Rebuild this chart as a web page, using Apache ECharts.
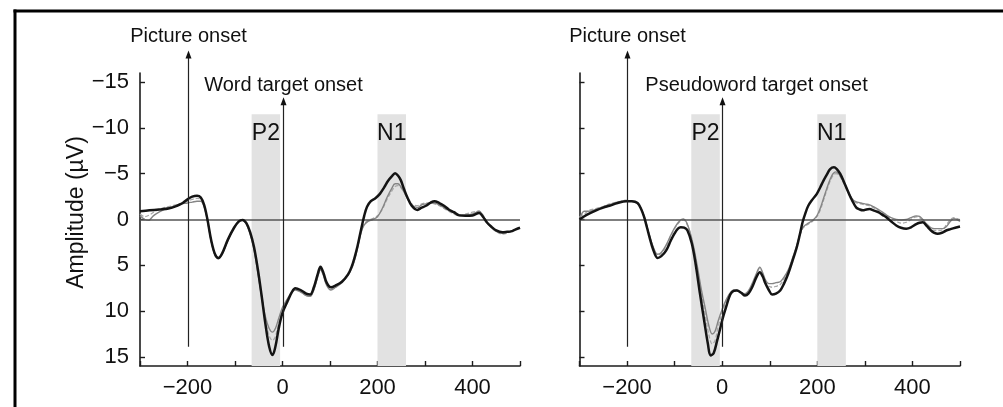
<!DOCTYPE html>
<html>
<head>
<meta charset="utf-8">
<script src="https://cdn.jsdelivr.net/npm/echarts@6/dist/echarts.min.js"></script>
<style>
html,body{margin:0;padding:0;background:#fff;}
#chart{width:1003px;height:407px;}
</style>
</head>
<body>
<div id="chart"></div>
<script>
// ---------- data ----------
const xLabelValues = [-200, 0, 200, 400];
const yTickValues = [-15, -10, -5, 0, 5, 10, 15];

// shaded windows [start, end] in ms
const p2Window = [-65, -5];
const n1Window = [200, 260];
const bandTop = -11.5;

// onset arrows [time, bottom value, tip value]
const pictureOnset = [-200, 13.9, -18.45];
const targetOnset = [0, 13.9, -13.35];

// left panel (word targets)
const leftBlack = [[-300,-0.9],[-280,-1.0],[-260,-1.1],[-240,-1.2],[-222,-1.5],[-210,-1.8],[-200,-2.2],[-190,-2.5],[-180,-2.6],[-172,-2.4],[-165,-1.6],[-158,0.0],[-150,2.3],[-142,3.8],[-135,4.2],[-127,3.7],[-115,2.2],[-102,0.9],[-92,0.2],[-84,0.05],[-76,0.4],[-68,1.4],[-60,3.0],[-52,5.4],[-44,8.3],[-36,11.4],[-28,13.9],[-21,14.8],[-15,13.9],[-8,11.9],[0,10.2],[10,9.0],[20,7.9],[27,7.5],[38,7.7],[50,8.1],[58,8.2],[66,7.4],[74,6.0],[80,5.15],[86,5.8],[93,6.9],[102,7.4],[112,7.2],[125,6.8],[138,6.0],[146,5.1],[152,4.1],[158,2.9],[165,1.2],[172,-0.4],[178,-1.4],[186,-2.0],[195,-2.3],[205,-2.8],[214,-3.5],[222,-4.2],[230,-4.7],[237,-5.05],[243,-4.8],[249,-4.3],[256,-3.3],[263,-2.4],[272,-1.5],[284,-1.05],[293,-1.3],[302,-1.5],[312,-1.85],[320,-2.0],[330,-1.8],[340,-1.5],[350,-1.1],[361,-0.8],[372,-0.45],[385,-0.4],[400,-0.44],[414,-0.7],[422,-0.3],[430,0.3],[440,0.8],[450,1.2],[463,1.4],[473,1.35],[481,1.3],[490,1.1],[500,0.9]];
const leftGrey = [[-300,-0.4],[-290,0.0],[-282,0.1],[-272,-0.4],[-260,-0.8],[-245,-1.2],[-230,-1.4],[-214,-1.7],[-200,-1.8],[-190,-1.9],[-180,-2.0],[-172,-2.0],[-165,-1.4],[-158,0.1],[-150,2.4],[-142,3.9],[-135,4.3],[-127,3.8],[-115,2.3],[-102,0.9],[-92,0.2],[-84,0.05],[-76,0.5],[-68,1.6],[-60,3.3],[-52,5.8],[-44,8.4],[-36,10.6],[-28,11.9],[-21,12.3],[-15,11.9],[-8,10.8],[0,9.6],[10,8.7],[20,7.9],[27,7.7],[38,7.9],[50,8.3],[58,8.4],[66,7.7],[74,6.3],[80,5.5],[86,6.1],[93,7.2],[102,7.7],[112,7.4],[125,6.9],[138,6.1],[146,5.3],[152,4.4],[158,3.1],[165,1.5],[172,0.6],[180,0.2],[190,0.0],[200,-0.3],[210,-1.2],[220,-2.4],[230,-3.4],[237,-3.9],[243,-3.9],[249,-3.6],[256,-3.0],[263,-2.3],[272,-1.6],[284,-1.3],[293,-1.6],[302,-1.7],[312,-1.8],[320,-1.8],[330,-1.6],[340,-1.3],[350,-1.0],[361,-0.7],[372,-0.5],[385,-0.5],[400,-0.6],[414,-0.9],[422,-0.4],[430,0.3],[440,0.9],[450,1.3],[463,1.5],[473,1.4],[481,1.3],[490,1.1],[500,0.9]];
const leftDashed = [[-300,-0.6],[-290,-0.3],[-280,-0.5],[-268,-0.9],[-255,-1.2],[-240,-1.4],[-225,-1.6],[-210,-1.8],[-200,-2.0],[-190,-2.2],[-180,-2.3],[-172,-2.2],[-165,-1.5],[-158,0.1],[-150,2.4],[-142,3.9],[-135,4.2],[-127,3.7],[-115,2.3],[-102,0.9],[-92,0.3],[-84,0.1],[-76,0.5],[-68,1.5],[-60,3.2],[-52,5.6],[-44,8.4],[-36,11.0],[-28,12.7],[-21,13.2],[-15,12.8],[-8,11.3],[0,9.9],[10,8.8],[20,7.9],[27,7.6],[38,7.9],[50,8.3],[58,8.4],[66,7.6],[74,6.2],[80,5.4],[86,6.0],[93,7.1],[102,7.6],[112,7.3],[125,6.8],[138,6.0],[146,5.2],[152,4.3],[158,3.0],[165,1.4],[172,0.5],[180,0.1],[190,-0.1],[200,-0.4],[210,-1.1],[220,-2.2],[230,-3.1],[237,-3.6],[243,-3.7],[249,-3.5],[256,-3.0],[263,-2.3],[272,-1.7],[284,-1.5],[293,-1.7],[302,-1.8],[312,-1.8],[320,-1.7],[330,-1.5],[340,-1.2],[350,-0.9],[361,-0.6],[372,-0.4],[385,-0.6],[400,-0.8],[414,-0.9],[422,-0.5],[430,0.2],[440,0.8],[450,1.3],[463,1.6],[473,1.5],[481,1.3],[490,1.1],[500,0.9]];

// right panel (pseudoword targets)
const rightBlack = [[-300,0.0],[-285,-0.5],[-265,-1.0],[-250,-1.3],[-237,-1.5],[-220,-1.8],[-202,-2.0],[-190,-2.0],[-178,-1.8],[-170,-1.1],[-164,-0.25],[-158,0.9],[-153,1.9],[-145,3.3],[-136,4.2],[-128,4.0],[-118,3.4],[-108,2.3],[-101,1.6],[-93,1.0],[-87,0.84],[-80,0.9],[-73,1.2],[-64,2.6],[-56,4.8],[-47,8.0],[-38,11.0],[-30,13.6],[-24.5,14.85],[-18,14.6],[-10.5,13.2],[-5,12.1],[0,11.0],[8,9.6],[17,8.2],[24,7.8],[31,7.75],[40,8.0],[48,8.3],[55,8.1],[63,7.4],[72,6.3],[79,5.75],[85,6.2],[91,7.0],[98,7.7],[105,8.2],[113,8.1],[122,7.75],[130,7.0],[139,5.9],[148,4.5],[157,3.0],[163,1.7],[169,0.3],[175,-0.7],[181,-1.5],[190,-2.2],[199,-2.8],[206,-3.5],[213,-4.25],[220,-4.9],[227,-5.5],[235,-5.7],[241,-5.5],[248,-5.0],[256,-4.1],[265,-3.0],[273,-2.1],[282,-1.3],[289,-1.1],[296,-1.0],[303,-1.1],[310,-1.15],[318,-1.0],[328,-0.8],[337,-0.5],[345,-0.25],[355,0.2],[366,0.65],[376,0.9],[387,1.0],[397,0.85],[408,0.5],[415,0.35],[422,0.3],[430,0.7],[439,1.2],[446,1.45],[453,1.55],[462,1.45],[471,1.2],[480,1.05],[490,0.9],[500,0.77]];
const rightGrey = [[-300,0.0],[-290,-0.9],[-280,-0.9],[-265,-1.1],[-250,-1.4],[-237,-1.6],[-220,-1.9],[-202,-2.0],[-190,-2.0],[-178,-1.8],[-170,-1.1],[-164,-0.3],[-158,0.8],[-153,1.7],[-145,3.0],[-136,3.8],[-128,3.6],[-118,2.8],[-108,1.7],[-100,0.9],[-92,0.3],[-86,0.0],[-81,-0.05],[-75,0.3],[-68,1.3],[-60,3.0],[-52,5.2],[-44,7.6],[-36,9.6],[-28,11.6],[-21,12.5],[-15,12.2],[-8,11.0],[0,9.8],[8,8.8],[17,8.0],[24,7.7],[31,7.7],[40,8.0],[48,8.1],[55,7.8],[63,7.0],[72,5.9],[79,5.2],[85,5.8],[91,6.6],[98,7.0],[105,7.0],[113,6.9],[122,6.8],[130,6.3],[139,5.5],[148,4.2],[157,2.8],[163,1.7],[169,0.9],[175,0.6],[181,0.4],[190,0.1],[199,-0.4],[206,-1.2],[213,-2.3],[220,-3.4],[227,-4.4],[233,-5.0],[239,-5.2],[245,-5.0],[252,-4.4],[260,-3.6],[268,-2.7],[276,-2.1],[284,-1.9],[292,-1.8],[300,-1.7],[310,-1.6],[318,-1.4],[328,-1.1],[337,-0.8],[345,-0.5],[355,-0.2],[366,0.0],[376,0.05],[387,0.0],[397,-0.2],[408,-0.4],[415,-0.35],[422,0.0],[430,0.5],[439,0.9],[446,1.0],[453,1.0],[464,1.0],[471,0.8],[480,0.2],[487,-0.1],[494,0.0],[500,0.2]];
const rightDashed = [[-300,-0.3],[-290,-0.6],[-280,-1.0],[-265,-1.2],[-250,-1.4],[-237,-1.7],[-220,-1.9],[-202,-2.1],[-190,-2.0],[-178,-1.8],[-170,-1.1],[-164,-0.3],[-158,0.8],[-153,1.8],[-145,3.1],[-136,3.9],[-128,3.7],[-118,2.9],[-108,1.8],[-100,1.0],[-92,0.4],[-86,0.1],[-81,0.05],[-75,0.4],[-68,1.4],[-60,3.2],[-52,5.5],[-44,8.0],[-36,10.3],[-28,12.6],[-21,13.6],[-15,13.2],[-8,11.6],[0,10.2],[8,9.0],[17,8.1],[24,7.8],[31,7.8],[40,8.0],[48,8.2],[55,7.9],[63,7.2],[72,6.0],[79,5.3],[85,5.9],[91,6.8],[98,7.3],[105,7.4],[113,7.3],[122,7.1],[130,6.5],[139,5.6],[148,4.3],[157,2.9],[163,1.8],[169,1.0],[175,0.7],[181,0.5],[190,0.2],[199,-0.3],[206,-1.0],[213,-2.1],[220,-3.2],[227,-4.2],[233,-4.8],[239,-5.0],[245,-4.9],[252,-4.3],[260,-3.5],[268,-2.6],[276,-2.0],[284,-1.8],[292,-1.7],[300,-1.6],[310,-1.5],[318,-1.3],[328,-1.0],[337,-0.7],[345,-0.4],[355,-0.1],[366,0.2],[376,0.4],[387,0.3],[397,0.0],[408,-0.3],[415,-0.2],[422,0.1],[430,0.6],[439,1.0],[446,1.2],[453,1.2],[464,1.1],[471,0.6],[480,0.0],[487,-0.2],[494,-0.1],[500,0.0]];

const panelTargets = ['Word target onset', 'Pseudoword target onset'];

// ---------- chart ----------
const FONT = "'Liberation Sans', Arial, Helvetica, sans-serif";
const fmt = v => (v < 0 ? '\u2212' + Math.abs(v) : String(v));
const AX = '#1c1c1c';

function xAxisFor(i) {
  return {
    gridIndex: i, type: 'value', min: -300, max: 500, interval: 100,
    axisLine: { show: true, onZero: false, lineStyle: { color: AX, width: 1.6 } },
    axisTick: { show: true, inside: true, length: 5, lineStyle: { color: AX, width: 1.4 } },
    axisLabel: {
      margin: 11, fontSize: 22, color: '#111', fontFamily: FONT,
      showMinLabel: true, showMaxLabel: true,
      formatter: v => (xLabelValues.indexOf(v) >= 0 ? fmt(v) : '')
    },
    splitLine: { show: false }
  };
}
function yAxisFor(i) {
  return {
    gridIndex: i, type: 'value', inverse: true, min: -16, max: 16,
    axisLine: { show: true, onZero: false, lineStyle: { color: AX, width: 1.6 } },
    axisTick: { show: true, inside: true, length: 5, customValues: yTickValues, lineStyle: { color: AX, width: 1.4 } },
    axisLabel: { show: i === 0, customValues: yTickValues, formatter: fmt, margin: 11, fontSize: 22, color: '#111', fontFamily: FONT },
    splitLine: { show: false },
    name: i === 0 ? 'Amplitude (\u00b5V)' : '',
    nameLocation: 'middle', nameRotate: 90, nameGap: 52,
    nameTextStyle: { fontSize: 23, color: '#111', fontFamily: FONT, padding: [0, 0, 0, 14] }
  };
}

function panelSeries(i, black, grey, dashed) {
  const common = { type: 'line', xAxisIndex: i, yAxisIndex: i, showSymbol: false, symbol: 'none', smooth: 0.35, silent: true, animation: false };
  return [
    Object.assign({}, common, {
      data: dashed, lineStyle: { color: '#a8a8a8', width: 1.3, type: [4, 2] }, z: 3,
      markLine: {
        silent: true, animation: false, symbol: ['none', 'none'],
        lineStyle: { color: '#555', width: 1.5, type: 'solid' },
        label: { show: false },
        data: [{ yAxis: 0 }]
      }
    }),
    Object.assign({}, common, { data: grey, lineStyle: { color: '#858585', width: 1.4 }, z: 4 }),
    Object.assign({}, common, {
      data: black, lineStyle: { color: '#141414', width: 2.5 }, z: 6,
      markArea: {
        silent: true,
        itemStyle: { color: '#e2e2e2' },
        label: { show: true, position: 'insideTop', distance: 8, fontSize: 23, color: '#111', fontFamily: FONT },
        data: [
          [{ name: 'P2', coord: [p2Window[0], bandTop] }, { coord: [p2Window[1], 16] }],
          [{ name: 'N1', coord: [n1Window[0], bandTop] }, { coord: [n1Window[1], 16] }]
        ]
      }
    })
  ];
}

const chart = echarts.init(document.getElementById('chart'), null, { renderer: 'canvas' });
const baseOption = {
  animation: false,
  backgroundColor: '#fff',
  textStyle: { fontFamily: FONT },
  grid: [
    { left: 140, top: 73, width: 380, height: 293 },
    { left: 579.5, top: 73, width: 380.5, height: 293 }
  ],
  xAxis: [xAxisFor(0), xAxisFor(1)],
  yAxis: [yAxisFor(0), yAxisFor(1)],
  series: [].concat(
    panelSeries(0, leftBlack, leftGrey, leftDashed),
    panelSeries(1, rightBlack, rightGrey, rightDashed)
  )
};
chart.setOption(baseOption);

// onset arrows and their captions, placed through the axes' own scales
function arrowGraphics(gridIndex, onset, caption, textShift, gap) {
  const bottom = chart.convertToPixel({ gridIndex: gridIndex }, [onset[0], onset[1]]);
  const tip = chart.convertToPixel({ gridIndex: gridIndex }, [onset[0], onset[2]]);
  const x = Math.round(bottom[0]) + 0.5;
  return [
    { type: 'line', z: 50, silent: true, shape: { x1: x, y1: bottom[1], x2: x, y2: tip[1] + 6 }, style: { stroke: '#222', lineWidth: 1.2 } },
    { type: 'polygon', z: 50, silent: true, shape: { points: [[x, tip[1]], [x - 3, tip[1] + 8], [x + 3, tip[1] + 8]] }, style: { fill: '#111' } },
    { type: 'text', z: 50, silent: true, x: x + textShift, y: tip[1] - gap,
      style: { text: caption, fill: '#111', font: "20px 'Liberation Sans', Arial, sans-serif", textAlign: 'center', textVerticalAlign: 'bottom', verticalAlign: 'bottom' } }
  ];
}
const graphics = [
  { type: 'line', shape: { x1: 15, y1: 9.5, x2: 15, y2: 407 }, style: { stroke: '#000', lineWidth: 3 } },
  { type: 'line', shape: { x1: 13.5, y1: 11, x2: 1003, y2: 11 }, style: { stroke: '#000', lineWidth: 3 } }
].concat(
  arrowGraphics(0, pictureOnset, 'Picture onset', 0, 4),
  arrowGraphics(0, targetOnset, panelTargets[0], 0, 2),
  arrowGraphics(1, pictureOnset, 'Picture onset', 0, 4),
  arrowGraphics(1, targetOnset, panelTargets[1], 34, 2)
);
chart.setOption({ graphic: graphics });
</script>
</body>
</html>
